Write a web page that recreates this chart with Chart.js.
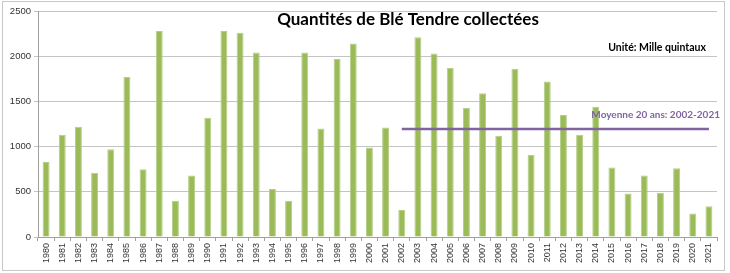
<!DOCTYPE html>
<html>
<head>
  <title>Quantités de Blé Tendre collectées</title>
  <script src="https://cdn.jsdelivr.net/npm/chart.js"></script>
  <style>
    html, body { margin: 0; padding: 0; background: #ffffff; }
    #wrap { position: relative; width: 730px; height: 273px; }
    #frame {
      position: absolute; left: 2px; top: 1px; width: 721px; height: 268px;
      border: 1px solid #c8c8c8; pointer-events: none;
    }
  </style>
</head>
<body>
  <div id="wrap">
    <canvas id="chart" width="730" height="273"></canvas>
    <div id="frame"></div>
  </div>

  <script>
    const years = ['1980','1981','1982','1983','1984','1985','1986','1987','1988','1989',
      '1990','1991','1992','1993','1994','1995','1996','1997','1998','1999',
      '2000','2001','2002','2003','2004','2005','2006','2007','2008','2009',
      '2010','2011','2012','2013','2014','2015','2016','2017','2018','2019',
      '2020','2021'];
    const quantities = [830, 1130, 1220, 710, 970, 1770, 750, 2280, 400, 680,
      1320, 2280, 2260, 2040, 530, 400, 2040, 1200, 1970, 2140,
      990, 1210, 300, 2210, 2030, 1870, 1430, 1590, 1120, 1860,
      910, 1720, 1350, 1130, 1440, 770, 480, 680, 490, 760,
      260, 340];
    const meanYears = ['2002', '2021'];
    const meanValue = 1195;
    const yTicks = [0, 500, 1000, 1500, 2000, 2500];

    const titleText = 'Quantités de Blé Tendre collectées';
    const unitText = 'Unité: Mille quintaux';
    const meanText = 'Moyenne 20 ans: 2002-2021';

    const textPlugin = {
      id: 'texts',
      afterDraw(chart) {
        const ctx = chart.ctx;
        ctx.save();
        ctx.textBaseline = 'middle';
        ctx.fillStyle = '#000000';
        ctx.font = 'bold 17px Lato, "Open Sans", sans-serif';
        ctx.textAlign = 'center';
        ctx.fillText(titleText, 408, 20);
        ctx.font = 'bold 10.5px Lato, "Open Sans", sans-serif';
        ctx.textAlign = 'right';
        ctx.fillText(unitText, 706, 48);
        ctx.fillStyle = '#8064a2';
        ctx.font = 'bold 10px Lato, "Open Sans", sans-serif';
        ctx.fillText(meanText, 720, 115);
        ctx.restore();
      }
    };

    new Chart(document.getElementById('chart'), {
      data: {
        labels: years,
        datasets: [{
          type: 'bar',
          data: quantities,
          backgroundColor: '#9bbb59',
          borderColor: '#b5cf86',
          borderWidth: { left: 1, right: 1, top: 1, bottom: 0 },
          barPercentage: 0.43,
          categoryPercentage: 1,
          order: 2
        }, {
          type: 'line',
          data: meanYears.map(y => ({ x: y, y: meanValue })),
          borderColor: '#8064a2',
          borderWidth: 2.5,
          pointRadius: 0,
          order: 1
        }]
      },
      options: {
        responsive: false,
        animation: false,
        layout: { padding: { top: 11, right: 13, left: 0, bottom: 0 } },
        plugins: { legend: { display: false }, tooltip: { enabled: false }, title: { display: false } },
        scales: {
          x: {
            offset: true,
            afterFit(scale) { scale.height = 36; },
            grid: { display: true, offset: true, drawOnChartArea: false, color: '#a0a0a0', tickLength: 4 },
            border: { color: '#a0a0a0' },
            ticks: {
              autoSkip: false, maxRotation: 90, minRotation: 90,
              color: '#333333', padding: 2,
              font: { family: '"Liberation Sans", Arial, sans-serif', size: 9 }
            }
          },
          y: {
            min: 0, max: 2500,
            afterFit(scale) { scale.width = 38; },
            afterBuildTicks(scale) { scale.ticks = yTicks.map(v => ({ value: v })); },
            grid: { color: '#c4c4c4', tickLength: 4 },
            border: { color: '#a0a0a0' },
            ticks: {
              color: '#333333', padding: 3,
              callback: v => String(v),
              font: { family: '"Liberation Sans", Arial, sans-serif', size: 9.5 }
            }
          }
        }
      },
      plugins: [textPlugin]
    });
  </script>
</body>
</html>
